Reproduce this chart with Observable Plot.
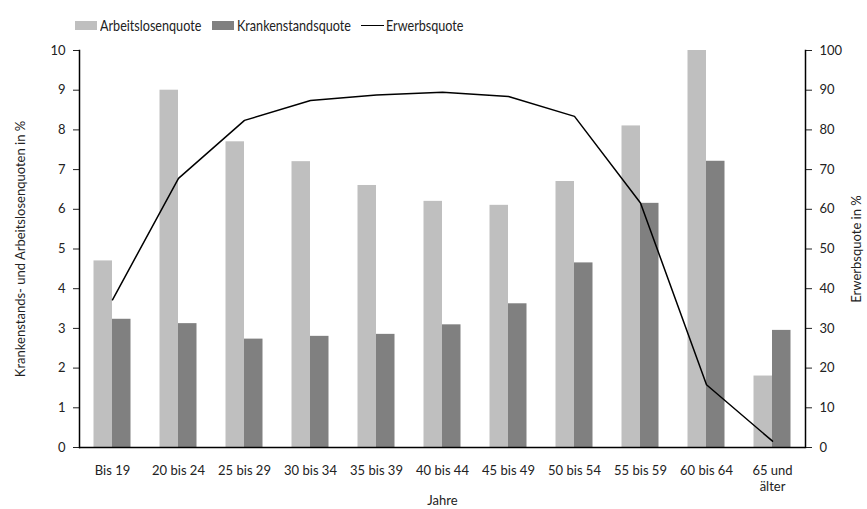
<!DOCTYPE html>
<html>
<head>
<meta charset="utf-8">
<script src="https://cdn.jsdelivr.net/npm/d3@7"></script>
<script src="https://cdn.jsdelivr.net/npm/@observablehq/plot@0.6"></script>
<style>
  body { margin: 0; background: #fff; font-family: Lato, "DejaVu Sans", sans-serif; }
  #legend { height: 40px; position: relative; font-size: 15px; color: #222; }
  .item { position: absolute; top: 16px; display: flex; align-items: center; white-space: nowrap; }
  .sw { width: 22px; height: 9px; margin-right: 3px; }
  .ln { width: 23px; height: 0; border-top: 1.5px solid #000; margin-right: 2px; }
  .t { display: inline-block; transform: scaleX(0.84); transform-origin: left center; }
</style>
</head>
<body>
<div id="legend">
  <div class="item" style="left:75px"><div class="sw" style="background:#bfbfbf"></div><span class="t">Arbeitslosenquote</span></div>
  <div class="item" style="left:212px"><div class="sw" style="background:#808080"></div><span class="t">Krankenstandsquote</span></div>
  <div class="item" style="left:361px"><div class="ln"></div><span class="t">Erwerbsquote</span></div>
</div>
<div id="chart"></div>
<script>
const categories = ["Bis 19", "20 bis 24", "25 bis 29", "30 bis 34", "35 bis 39", "40 bis 44", "45 bis 49", "50 bis 54", "55 bis 59", "60 bis 64", "65 und älter"];
const tickLabels = ["Bis 19", "20 bis 24", "25 bis 29", "30 bis 34", "35 bis 39", "40 bis 44", "45 bis 49", "50 bis 54", "55 bis 59", "60 bis 64", "65 und\nälter"];
const arbeitslosenquote = [4.7, 9.0, 7.7, 7.2, 6.6, 6.2, 6.1, 6.7, 8.1, 10.0, 1.8];
const krankenstandsquote = [3.23, 3.12, 2.73, 2.80, 2.85, 3.09, 3.62, 4.65, 6.15, 7.21, 2.95];
const erwerbsquote = [37.2, 67.8, 82.4, 87.4, 88.8, 89.5, 88.4, 83.4, 61.6, 15.8, 1.6];

const rows = categories.map((c, i) => ({
  cat: c, al: arbeitslosenquote[i], ks: krankenstandsquote[i], ew: erwerbsquote[i] / 10
}));
const labelOf = new Map(categories.map((c, i) => [c, tickLabels[i]]));

const chart = Plot.plot({
  width: 867,
  height: 469,
  marginLeft: 79,
  marginRight: 62,
  marginTop: 10,
  marginBottom: 62,
  style: { fontFamily: "Lato, 'DejaVu Sans', sans-serif", fontSize: "13px", color: "#222", background: "#fff" },
  x: { domain: categories, padding: 0 },
  y: { domain: [0, 10] },
  marks: [
    Plot.barY(rows, { x: "cat", y: "al", fill: "#bfbfbf", insetLeft: 14.5, insetRight: 33 }),
    Plot.barY(rows, { x: "cat", y: "ks", fill: "#808080", insetLeft: 33, insetRight: 14.5 }),
    Plot.line(rows, { x: "cat", y: "ew", stroke: "#000", strokeWidth: 1.5 }),
    Plot.axisX({ tickSize: 0, tickPadding: 16, tickFormat: d => labelOf.get(d), lineHeight: 1.25, label: "Jahre", labelArrow: false, labelAnchor: "center", labelOffset: 57, fontSize: 13 }),
    Plot.axisY({ anchor: "left", ticks: d3.range(0, 11), tickSize: 6, tickPadding: 8, tickFormat: d => d, label: "Krankenstands- und Arbeitslosenquoten in %", labelArrow: false, labelAnchor: "center", labelOffset: 64, fontSize: 13 }),
    Plot.axisY({ anchor: "right", ticks: d3.range(0, 11), tickSize: 6, tickPadding: 8, tickFormat: d => d * 10, label: "Erwerbsquote in %", labelArrow: false, labelAnchor: "center", labelOffset: 55, fontSize: 13 }),
    Plot.frame({ anchor: "left", stroke: "#000", strokeWidth: 1.5 }),
    Plot.frame({ anchor: "right", stroke: "#000", strokeWidth: 1.5 }),
    Plot.ruleY([0], { stroke: "#000", strokeWidth: 1.5 })
  ]
});
document.getElementById("chart").appendChild(chart);
</script>
</body>
</html>
